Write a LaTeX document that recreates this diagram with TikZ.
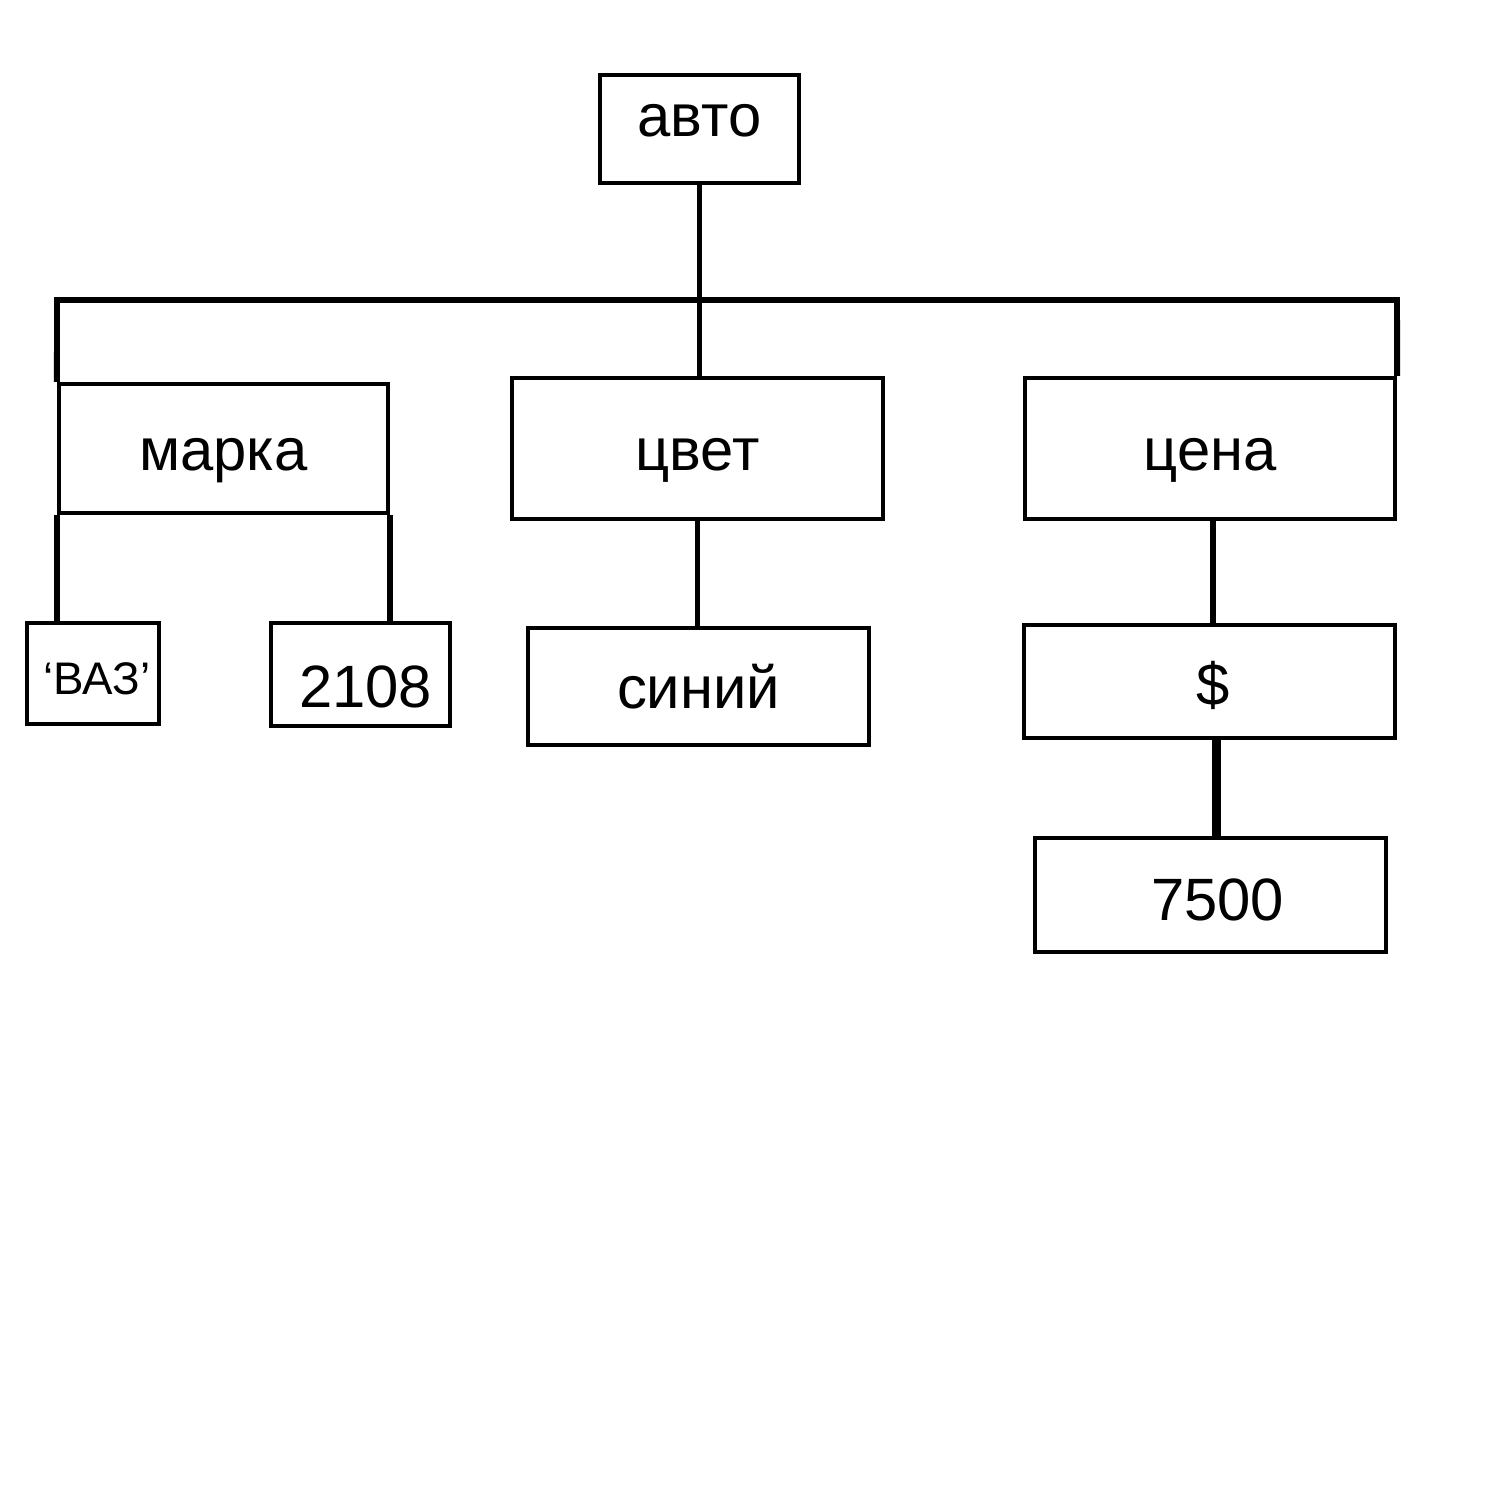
\documentclass[tikz,border=0pt]{standalone}
\usepackage{fontspec}
\setmainfont{Liberation Sans}
\usepackage{tikz}

\tikzset{
  box/.style={draw, line width=1.15pt, inner sep=0pt, text height=12.8pt, text depth=0pt,
    font=\fontsize{17}{20}\selectfont},
  link/.style={line width=1.15pt},
  bus/.style={line width=1.7pt, line join=miter},
  heavy/.style={line width=2.3pt}
}

\begin{document}
\begin{tikzpicture}
    \useasboundingbox (0,0) rectangle (15,15);

    % Root
    \node[box, minimum width=1.99cm, minimum height=1.08cm, text height=8.8pt, text depth=4.4pt] (avto) at (6.995,13.71) {авто};

    % Second level
    \node[box, minimum width=3.29cm, minimum height=1.29cm, text height=12.6pt] (marka) at (2.235,10.515) {марка\hspace{0.2cm}};
    \node[box, minimum width=3.71cm, minimum height=1.41cm] (cvet) at (6.975,10.515) {цвет};
    \node[box, minimum width=3.70cm, minimum height=1.41cm] (cena) at (12.10,10.515) {цена};

    % Third level
    \node[box, minimum width=1.32cm, minimum height=1.01cm, text height=11.9pt, font=\fontsize{13}{15}\selectfont] (vaz) at (0.93,8.265) {\hspace{0.08cm}‘ВАЗ’};
    \node[box, minimum width=1.79cm, minimum height=1.03cm, text height=18.5pt] (model) at (3.605,8.255) {\hspace{0.1cm}2108};
    \node[box, minimum width=3.41cm, minimum height=1.17cm, text height=12.5pt] (sinij) at (6.985,8.135) {синий};
    \node[box, minimum width=3.71cm, minimum height=1.13cm, text height=13.6pt] (dollar) at (12.095,8.185) {\hspace{0.08cm}\$};

    % Fourth level
    \node[box, minimum width=3.51cm, minimum height=1.14cm, text height=14.5pt] (summa) at (12.105,6.05) {\hspace{0.14cm}7500};

    % Bus
    \coordinate (busL) at (0.57,12);
    \coordinate (busR) at (13.97,12);
    \coordinate (busM) at (avto.south |- busL);
    \draw[bus] (marka.north west) -- (busL) -- (busR) -- (cena.north east);

    % Root to bus
    \draw[link] (avto.south) -- (busM);

    % Bus to middle node
    \draw[bus] (busM) -- (cvet.north -| busM);

    % Second to third level
    \draw[bus] (marka.south west) -- (vaz.north -| marka.south west);
    \draw[bus] (marka.south east) -- (model.north -| marka.south east);
    \draw[bus] (cvet.south) -- (sinij.north -| cvet.south);
    \draw[bus] ([xshift=0.03cm]cena.south) -- ([xshift=0.03cm]cena.south |- dollar.north);

    % Third to fourth level
    \draw[heavy] ([xshift=0.07cm]dollar.south) -- ([xshift=0.07cm]dollar.south |- summa.north);
\end{tikzpicture}
\end{document}
